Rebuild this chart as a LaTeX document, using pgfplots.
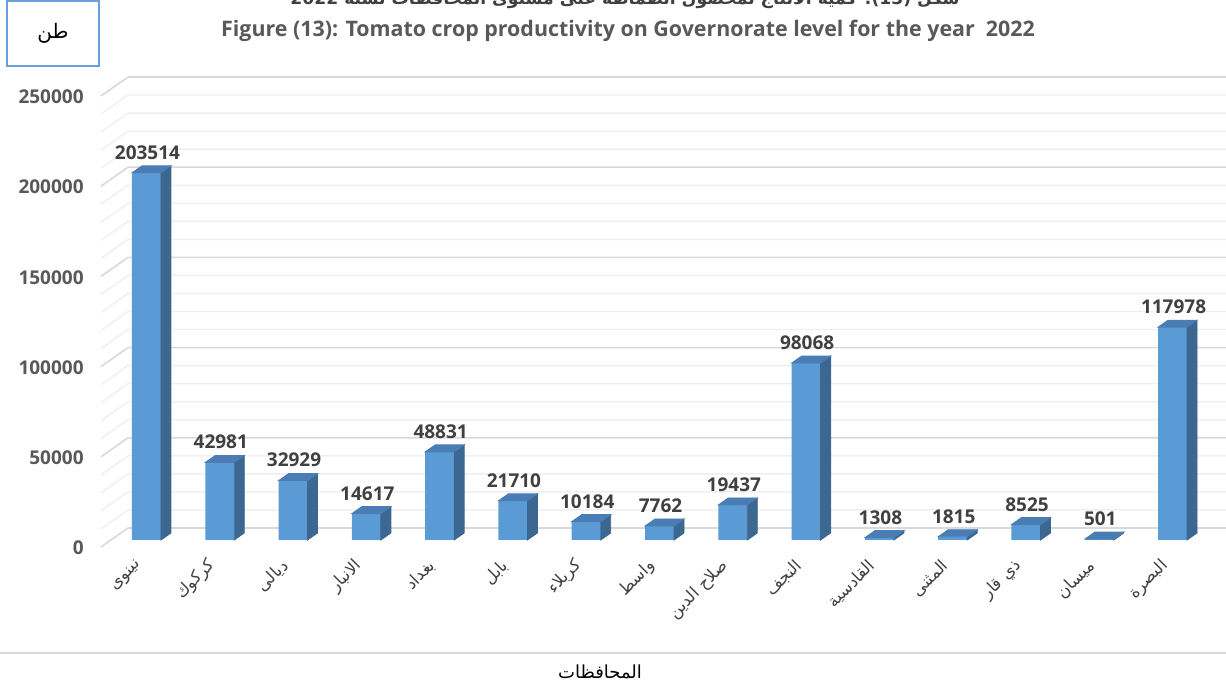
\documentclass[border=0pt]{standalone}
\usepackage{pgfplots}
\pgfplotsset{compat=1.18}
\usepackage{pgfplotstable}
\usepackage{fontspec}
\setmainfont{Open Sans}
\newfontfamily\arabicfont[Script=Arabic]{DejaVu Sans}
\TeXXeTstate=1
\definecolor{barfront}{HTML}{5B9BD5}
\definecolor{barside}{HTML}{3B6790}
\definecolor{bartop}{HTML}{4A7DB4}
\definecolor{gmaj}{HTML}{D9D9D9}
\definecolor{gmin}{HTML}{EFEFEF}
\definecolor{tickc}{HTML}{595959}
\definecolor{labc}{HTML}{404040}
\definecolor{boxblue}{HTML}{6A9FD8}

\pgfplotstableread{
x v
0 203514
1 42981
2 32929
3 14617
4 48831
5 21710
6 10184
7 7762
8 19437
9 98068
10 1308
11 1815
12 8525
13 501
14 117978
}\datatable

\begin{document}
\begin{tikzpicture}
\useasboundingbox (0,0) rectangle (613pt,344pt);
% unit box
\draw[boxblue, line width=1pt] (3.5pt,311pt) rectangle (49.5pt,343.5pt);
\node at (26.5pt,327.5pt) {\arabicfont\fontsize{10}{12}\selectfont\beginR طن\endR};
% titles
\node[anchor=base, text=labc] at (312.5pt,341.5pt) {\arabicfont\bfseries\fontsize{8.6}{10}\selectfont\beginR شكل \beginL(13):\endL{} كمية الانتاج لمحصول الطماطة على مستوى المحافظات لسنة 2022\endR};
\node[font=\bfseries\fontsize{10.7}{12}\selectfont, text=tickc] at (314pt,328.5pt) {Figure (13): Tomato crop productivity on Governorate level for the year\ \ 2022};
% bottom separator and axis title
\draw[gmaj, line width=0.6pt] (0pt,17.5pt) -- (613pt,17.5pt);
\node[text=black] at (300pt,8pt) {\arabicfont\fontsize{9}{11}\selectfont\beginR المحافظات\endR};

\begin{axis}[
  at={(55.5pt,74pt)}, anchor=south west,
  scale only axis, width=549pt, height=225.5pt,
  xmin=-0.484, xmax=14.497, ymin=0, ymax=250000,
  clip=false,
  axis line style={draw=none},
  tick style={draw=none},
  xtick={0,1,2,3,4,5,6,7,8,9,10,11,12,13,14},
  xticklabels={{\beginR نينوى\endR},{\beginR كركوك\endR},{\beginR ديالى\endR},{\beginR الانبار\endR},{\beginR بغداد\endR},{\beginR بابل\endR},{\beginR كربلاء\endR},{\beginR واسط\endR},{\beginR صلاح الدين\endR},{\beginR النجف\endR},{\beginR القادسية\endR},{\beginR المثنى\endR},{\beginR ذي قار\endR},{\beginR ميسان\endR},{\beginR البصرة\endR}},
  xticklabel style={font=\arabicfont\fontsize{8.3}{10}\selectfont, text=labc, inner sep=0pt, xshift=-3.5pt, yshift=-11.5pt, rotate=45, anchor=east},
  ytick={0,50000,100000,150000,200000,250000},
  yticklabel style={font=\bfseries\fontsize{9.5}{11}\selectfont, text=tickc, inner sep=0pt, anchor=east, xshift=-13.5pt, yshift=-4pt,
    /pgf/number format/fixed, /pgf/number format/precision=0},
  /pgf/number format/assume math mode=true,
  /pgf/number format/1000 sep={},
  /pgf/number format/fixed,
  scaled y ticks=false,
]
% minor grid (back wall + left diagonals)
\pgfplotsinvokeforeach{10000,20000,30000,40000,60000,70000,80000,90000,110000,120000,130000,140000,160000,170000,180000,190000,210000,220000,230000,240000}{
  \draw[gmin, line width=0.7pt] ([shift={(-5pt,-3.5pt)}]axis cs:-0.484,#1) -- ([shift={(8.5pt,6pt)}]axis cs:-0.484,#1) -- ([shift={(8.5pt,6pt)}]axis cs:14.497,#1);
}
% major grid
\pgfplotsinvokeforeach{0,50000,100000,150000,200000,250000}{
  \draw[gmaj, line width=0.8pt] ([shift={(-5pt,-3.5pt)}]axis cs:-0.484,#1) -- ([shift={(8.5pt,6pt)}]axis cs:-0.484,#1) -- ([shift={(8.5pt,6pt)}]axis cs:14.497,#1);
}
% front faces of the bars
\addplot[ybar, bar width=14.5pt, fill=barfront, draw=none,
  point meta=explicit symbolic,
  nodes near coords={\pgfplotspointmeta},
  every node near coord/.append style={font=\bfseries\fontsize{9.5}{11}\selectfont, text=labc, inner sep=0pt, anchor=south, yshift=6.5pt, xshift=0.5pt}]
  table[x=x, y=v, meta=v] {\datatable};
% side and top faces
\addplot[scatter, only marks, mark=*, mark size=0pt, mark options={draw=none, fill=none},
  visualization depends on={y \as \ry},
  scatter/@pre marker code/.code={%
    \begingroup
    \pgfkeys{/pgf/fpu=true,/pgf/fpu/output format=fixed}%
    \pgfmathparse{\ry*0.000902}%
    \xdef\barh{\pgfmathresult}%
    \endgroup
    \fill[barside] (7.25pt,0pt) -- (12.25pt,3.5pt) -- (12.25pt,{3.5pt-\barh pt}) -- (7.25pt,{0pt-\barh pt}) -- cycle;
    \fill[bartop] (-7.25pt,0pt) -- (7.25pt,0pt) -- (12.25pt,3.5pt) -- (-2.25pt,3.5pt) -- cycle;
  },
  scatter/@post marker code/.code={}]
  table[x=x, y=v] {\datatable};
\end{axis}
\end{tikzpicture}
\end{document}
